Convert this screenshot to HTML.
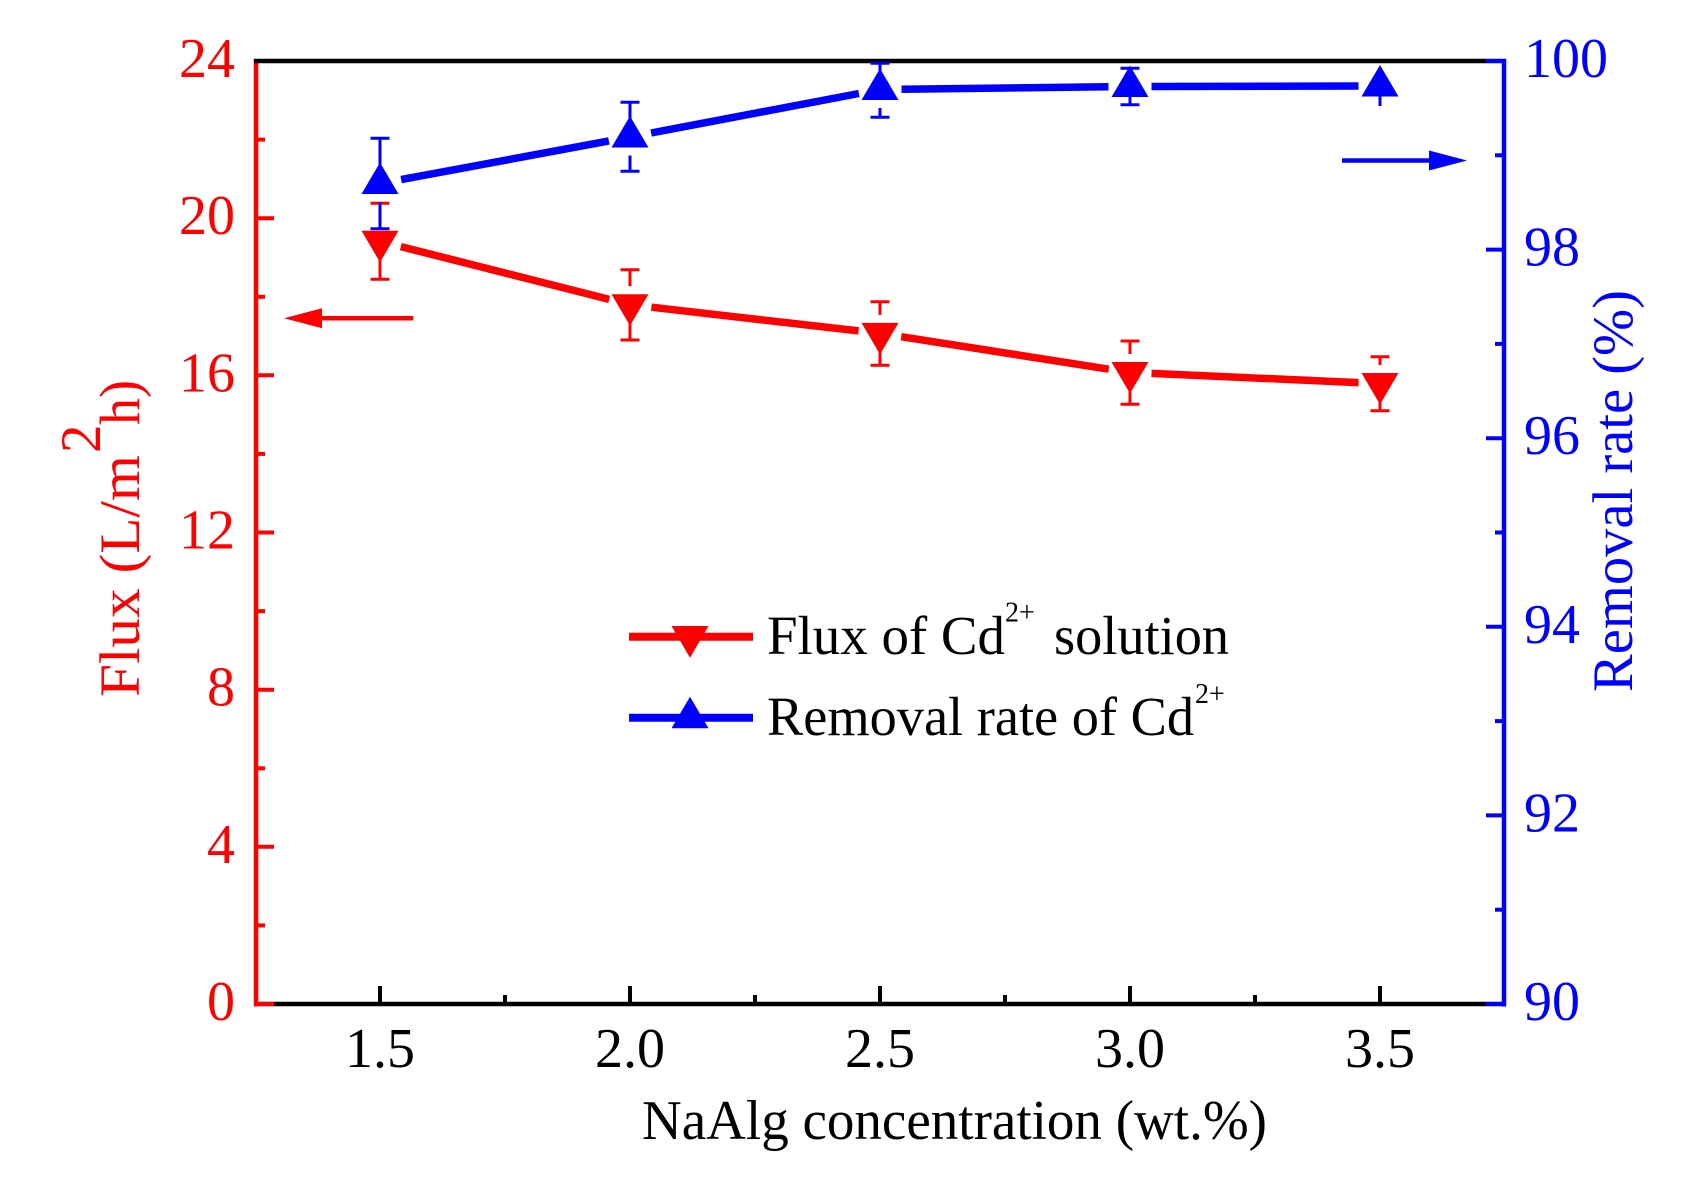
<!DOCTYPE html>
<html>
<head>
<meta charset="utf-8">
<style>
html,body{margin:0;padding:0;background:#fff;}
svg{display:block;}
text{font-family:"Liberation Serif","Times New Roman",serif;}
</style>
</head>
<body>
<svg width="1681" height="1180" viewBox="0 0 1681 1180" xmlns="http://www.w3.org/2000/svg">
<rect x="0" y="0" width="1681" height="1180" fill="#fff"/>

<!-- bottom axis -->
<line x1="254" y1="1004" x2="1506" y2="1004" stroke="#000" stroke-width="4.5"/>
<!-- bottom ticks major -->
<g stroke="#000" stroke-width="4">
<line x1="380" y1="1004" x2="380" y2="986"/>
<line x1="630" y1="1004" x2="630" y2="986"/>
<line x1="880" y1="1004" x2="880" y2="986"/>
<line x1="1130" y1="1004" x2="1130" y2="986"/>
<line x1="1380" y1="1004" x2="1380" y2="986"/>
<line x1="505" y1="1004" x2="505" y2="995"/>
<line x1="755" y1="1004" x2="755" y2="995"/>
<line x1="1005" y1="1004" x2="1005" y2="995"/>
<line x1="1255" y1="1004" x2="1255" y2="995"/>
</g>

<!-- left axis (red) -->
<line x1="256" y1="59" x2="256" y2="1006.5" stroke="#f00" stroke-width="4.5"/>
<g stroke="#f00" stroke-width="4">
<line x1="256" y1="1004" x2="274" y2="1004"/>
<line x1="256" y1="846.8" x2="274" y2="846.8"/>
<line x1="256" y1="689.7" x2="274" y2="689.7"/>
<line x1="256" y1="532.5" x2="274" y2="532.5"/>
<line x1="256" y1="375.3" x2="274" y2="375.3"/>
<line x1="256" y1="218.2" x2="274" y2="218.2"/>
<line x1="256" y1="925.4" x2="265" y2="925.4"/>
<line x1="256" y1="768.3" x2="265" y2="768.3"/>
<line x1="256" y1="611.1" x2="265" y2="611.1"/>
<line x1="256" y1="453.9" x2="265" y2="453.9"/>
<line x1="256" y1="296.8" x2="265" y2="296.8"/>
<line x1="256" y1="139.6" x2="265" y2="139.6"/>
</g>

<!-- right axis (blue) -->
<line x1="1504" y1="59" x2="1504" y2="1006.5" stroke="#00f" stroke-width="4.5"/>
<g stroke="#00f" stroke-width="4">
<line x1="1486" y1="1004" x2="1504" y2="1004"/>
<line x1="1486" y1="815.4" x2="1504" y2="815.4"/>
<line x1="1486" y1="626.8" x2="1504" y2="626.8"/>
<line x1="1486" y1="438.2" x2="1504" y2="438.2"/>
<line x1="1486" y1="249.6" x2="1504" y2="249.6"/>
<line x1="1495" y1="909.7" x2="1504" y2="909.7"/>
<line x1="1495" y1="721.1" x2="1504" y2="721.1"/>
<line x1="1495" y1="532.5" x2="1504" y2="532.5"/>
<line x1="1495" y1="343.9" x2="1504" y2="343.9"/>
<line x1="1495" y1="155.3" x2="1504" y2="155.3"/>
</g>

<!-- top axis -->
<line x1="254" y1="61" x2="1486" y2="61" stroke="#000" stroke-width="4.5"/>
<line x1="1486" y1="61" x2="1506" y2="61" stroke="#00f" stroke-width="4.5"/>

<!-- left tick labels -->
<g fill="#f00" font-size="56" text-anchor="end">
<text x="235" y="1020">0</text>
<text x="235" y="862.8">4</text>
<text x="235" y="705.7">8</text>
<text x="235" y="548.5">12</text>
<text x="235" y="391.3">16</text>
<text x="235" y="234.2">20</text>
<text x="235" y="77">24</text>
</g>

<!-- right tick labels -->
<g fill="#00f" font-size="56" text-anchor="start">
<text x="1524" y="1020">90</text>
<text x="1524" y="831.4">92</text>
<text x="1524" y="642.8">94</text>
<text x="1524" y="454.2">96</text>
<text x="1524" y="265.6">98</text>
<text x="1524" y="77">100</text>
</g>

<!-- bottom tick labels -->
<g fill="#000" font-size="56" text-anchor="middle">
<text x="380" y="1067">1.5</text>
<text x="630" y="1067">2.0</text>
<text x="880" y="1067">2.5</text>
<text x="1130" y="1067">3.0</text>
<text x="1380" y="1067">3.5</text>
</g>

<!-- axis titles -->
<text x="642" y="1139" font-size="56" fill="#000" textLength="625" lengthAdjust="spacingAndGlyphs">NaAlg concentration (wt.%)</text>

<g fill="#f00" font-size="57">
<text transform="translate(139,697) rotate(-90)" x="0" y="0" textLength="242" lengthAdjust="spacingAndGlyphs">Flux (L/m</text>
<text transform="translate(100,453) rotate(-90)" x="0" y="0">2</text>
<text transform="translate(139,425) rotate(-90)" x="0" y="0" textLength="45" lengthAdjust="spacingAndGlyphs">h)</text>
</g>

<text transform="translate(1632,692) rotate(-90)" x="0" y="0" font-size="57" fill="#00f" textLength="402" lengthAdjust="spacingAndGlyphs">Removal rate (%)</text>

<!-- arrows -->
<line x1="413.3" y1="318.3" x2="318" y2="318.3" stroke="#f00" stroke-width="4.5"/>
<polygon points="284,318.3 322,308.3 322,328.3" fill="#f00"/>
<line x1="1342" y1="160.5" x2="1432" y2="160.5" stroke="#00f" stroke-width="4.5"/>
<polygon points="1467,160.5 1429,150.5 1429,170.5" fill="#00f"/>

<!-- red series lines -->
<g stroke="#f00" stroke-width="7.5" fill="none">
<line x1="400.8" y1="246.6" x2="609.2" y2="299.4"/>
<line x1="651.4" y1="307.2" x2="858.6" y2="330.9"/>
<line x1="901.2" y1="336.7" x2="1108.8" y2="369.2"/>
<line x1="1151.5" y1="373.4" x2="1358.5" y2="382.6"/>
</g>
<!-- red error bars -->
<g stroke="#f00" stroke-width="3" fill="none">
<line x1="380" y1="203.3" x2="380" y2="222.8"/><line x1="370.5" y1="203.3" x2="389.5" y2="203.3"/>
<line x1="380" y1="259.8" x2="380" y2="279.3"/><line x1="370.5" y1="279.3" x2="389.5" y2="279.3"/>
<line x1="630" y1="269.7" x2="630" y2="286.2"/><line x1="620.5" y1="269.7" x2="639.5" y2="269.7"/>
<line x1="630" y1="323.2" x2="630" y2="340"/><line x1="620.5" y1="340" x2="639.5" y2="340"/>
<line x1="880" y1="301.7" x2="880" y2="314.9"/><line x1="870.5" y1="301.7" x2="889.5" y2="301.7"/>
<line x1="880" y1="351.9" x2="880" y2="365.3"/><line x1="870.5" y1="365.3" x2="889.5" y2="365.3"/>
<line x1="1130" y1="341" x2="1130" y2="354"/><line x1="1120.5" y1="341" x2="1139.5" y2="341"/>
<line x1="1130" y1="391" x2="1130" y2="404.3"/><line x1="1120.5" y1="404.3" x2="1139.5" y2="404.3"/>
<line x1="1380" y1="356.7" x2="1380" y2="365"/><line x1="1370.5" y1="356.7" x2="1389.5" y2="356.7"/>
<line x1="1380" y1="402" x2="1380" y2="410.7"/><line x1="1370.5" y1="410.7" x2="1389.5" y2="410.7"/>
</g>
<!-- red markers -->
<g fill="#f00">
<polygon points="361.5,230.8 398.5,230.8 380,262.3"/>
<polygon points="611.5,294.2 648.5,294.2 630,325.7"/>
<polygon points="861.5,322.9 898.5,322.9 880,354.4"/>
<polygon points="1111.5,362 1148.5,362 1130,393.5"/>
<polygon points="1361.5,373 1398.5,373 1380,404.5"/>
</g>

<!-- blue series lines -->
<g stroke="#00f" stroke-width="7.5" fill="none">
<line x1="401.1" y1="179.6" x2="608.9" y2="140.9"/>
<line x1="651.1" y1="133.0" x2="858.9" y2="93.5"/>
<line x1="901.5" y1="89.2" x2="1108.5" y2="86.8"/>
<line x1="1151.5" y1="86.5" x2="1358.5" y2="86.0"/>
</g>
<!-- blue error bars -->
<g stroke="#00f" stroke-width="3" fill="none">
<line x1="380" y1="138.3" x2="380" y2="165"/><line x1="370.5" y1="138.3" x2="389.5" y2="138.3"/>
<line x1="380" y1="202" x2="380" y2="228.7"/><line x1="370.5" y1="228.7" x2="389.5" y2="228.7"/>
<line x1="630" y1="102.3" x2="630" y2="118.5"/><line x1="620.5" y1="102.3" x2="639.5" y2="102.3"/>
<line x1="630" y1="155.5" x2="630" y2="171.3"/><line x1="620.5" y1="171.3" x2="639.5" y2="171.3"/>
<line x1="880" y1="63.3" x2="880" y2="71"/><line x1="870.5" y1="63.3" x2="889.5" y2="63.3"/>
<line x1="880" y1="108" x2="880" y2="117.3"/><line x1="870.5" y1="117.3" x2="889.5" y2="117.3"/>
<line x1="1120.5" y1="68.3" x2="1139.5" y2="68.3"/>
<line x1="1130" y1="97" x2="1130" y2="104.7"/><line x1="1120.5" y1="104.7" x2="1139.5" y2="104.7"/>
<line x1="1380" y1="96" x2="1380" y2="106"/>
</g>
<!-- blue markers -->
<g fill="#00f">
<polygon points="380,162.5 361.5,194 398.5,194"/>
<polygon points="630,116 611.5,147.5 648.5,147.5"/>
<polygon points="880,68.5 861.5,100 898.5,100"/>
<polygon points="1130,65.5 1111.5,97 1148.5,97"/>
<polygon points="1380,65 1361.5,96.5 1398.5,96.5"/>
</g>

<!-- legend -->
<line x1="629" y1="636.7" x2="753" y2="636.7" stroke="#f00" stroke-width="8"/>
<polygon points="671.5,626 708.5,626 690,657.7" fill="#f00"/>
<line x1="629" y1="717.7" x2="753" y2="717.7" stroke="#00f" stroke-width="8"/>
<polygon points="690,696.7 671.5,728.3 708.5,728.3" fill="#00f"/>

<g fill="#000">
<text x="767" y="654" font-size="55" textLength="238" lengthAdjust="spacingAndGlyphs">Flux of Cd</text>
<text x="1005" y="621.7" font-size="28">2+</text>
<text x="1054" y="654" font-size="55" textLength="175" lengthAdjust="spacingAndGlyphs">solution</text>
<text x="767" y="735" font-size="55" textLength="427" lengthAdjust="spacingAndGlyphs">Removal rate of Cd</text>
<text x="1195" y="703" font-size="28">2+</text>
</g>
</svg>
</body>
</html>
